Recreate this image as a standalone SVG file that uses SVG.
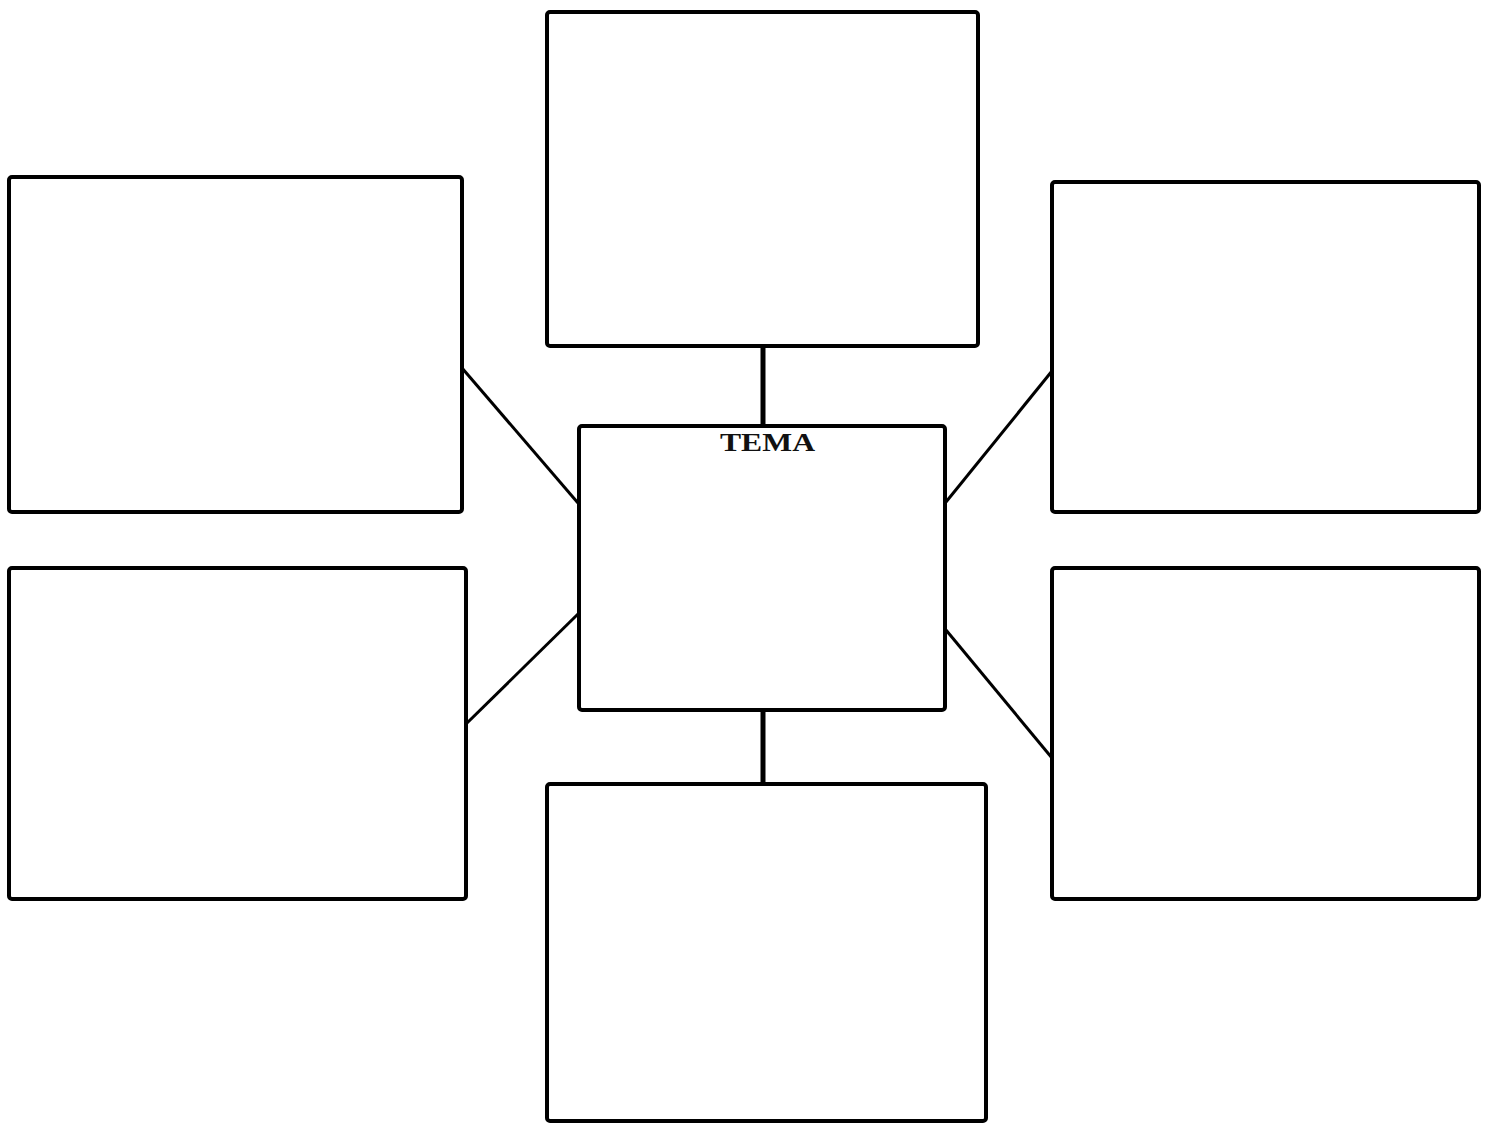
<svg xmlns="http://www.w3.org/2000/svg" width="1490" height="1125" viewBox="0 0 1490 1125">
<style>
.box{fill:#fff;stroke:#000;stroke-width:4}
.con{stroke:#000;fill:none}
.lbl{font-family:"Liberation Serif",serif;font-weight:bold;font-size:25px;fill:#111}
</style>
<rect width="1490" height="1125" fill="#fff"/>
<g id="connectors">
<line class="con" x1="763" y1="346" x2="763" y2="426" stroke-width="5"/>
<line class="con" x1="763" y1="710" x2="763" y2="784" stroke-width="5"/>
<line class="con" x1="462" y1="368" x2="578" y2="503" stroke-width="3"/>
<line class="con" x1="946" y1="502" x2="1052" y2="371" stroke-width="3"/>
<line class="con" x1="578" y1="614" x2="466" y2="724" stroke-width="3"/>
<line class="con" x1="946" y1="630" x2="1052" y2="758" stroke-width="3"/>
</g>
<g id="node-top"><rect class="box" x="547" y="12" width="431" height="334" rx="3"/></g>
<g id="node-left-top"><rect class="box" x="9" y="177" width="453" height="335" rx="3"/></g>
<g id="node-right-top"><rect class="box" x="1052" y="182" width="427" height="330" rx="3"/></g>
<g id="node-left-bottom"><rect class="box" x="9" y="568" width="457" height="331" rx="3"/></g>
<g id="node-right-bottom"><rect class="box" x="1052" y="568" width="427" height="331" rx="3"/></g>
<g id="node-bottom"><rect class="box" x="547" y="784" width="439" height="337" rx="3"/></g>
<g id="node-center"><rect class="box" x="579" y="426" width="366" height="284" rx="3"/>
<text class="lbl" x="720" y="451" textLength="95" lengthAdjust="spacingAndGlyphs">TEMA</text></g>
</svg>
